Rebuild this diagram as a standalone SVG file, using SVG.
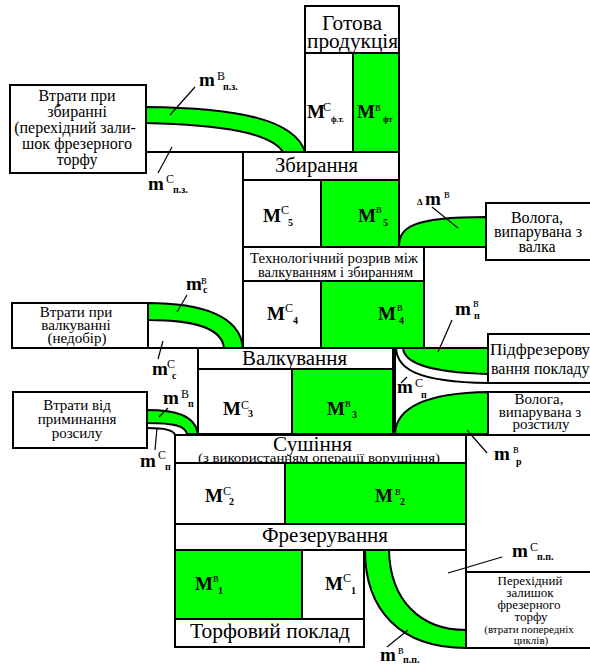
<svg xmlns="http://www.w3.org/2000/svg" width="590" height="666" viewBox="0 0 590 666" font-family="'Liberation Serif','DejaVu Serif','Times New Roman',serif">
<style>
.w{fill:#fff;stroke:#000;stroke-width:2}
.g{fill:#00ff00;stroke:#000;stroke-width:2}
.ln{fill:none;stroke:#000;stroke-width:2}
.ld{fill:none;stroke:#000;stroke-width:1.2}
text{font-family:'Liberation Serif','DejaVu Serif','Times New Roman',serif;fill:#000}
.bt{font-size:20px}
.tt{font-size:14px}
.st{font-size:16px;text-anchor:middle}
.st2{font-size:15px;text-anchor:middle}
.st3{font-size:13px;text-anchor:middle}
.sm{font-size:11px;text-anchor:middle}
.M{font-size:19px;font-weight:bold}
.sp{font-size:12px;font-weight:normal}
.sb{font-size:10px;font-weight:bold}
.sb8{font-size:8px;font-weight:bold}
</style>
<rect width="590" height="666" fill="#fff"/>

<g id="connectors">
  <path class="g" d="M146,107 C240,108 295,120 305,152 L283,152 C270,132 220,125 146,123 Z"/>
  <line class="ln" x1="146" y1="152" x2="243" y2="152"/>
  <path class="g" d="M148,303 C200,303 240,315 243,348 L224,348 C222,330 200,320 148,320 Z"/>
  <line class="ln" x1="148" y1="348" x2="243" y2="348"/>
  <path class="g" d="M147,410 C175,410 195,415 198,434 L187,434 C185,426 175,423 147,423 Z"/>
  <path class="ln" d="M147,428 C165,428 174,430 175,435"/>
  <path class="g" d="M399,247 C399,228 410,217 486,217 L486,247 Z"/>
  <path class="g" d="M403,348 L488,348 L488,374 C425,372 404,362 403,348 Z"/>
  <path class="ln" d="M396,348 C397,368 415,382 488,383"/>
  <line class="ln" x1="395" y1="348" x2="395" y2="434"/>
  <path class="g" d="M395,434 C396,410 420,393 488,392 L488,434 Z"/>
  <line class="ln" x1="466" y1="435" x2="466" y2="572"/>
  <path class="g" d="M365,550 C365,610 400,648 466,648 L466,630 C420,630 390,600 389,550 Z"/>
  <line class="ld" x1="195" y1="87" x2="170" y2="115"/>
  <line class="ld" x1="172" y1="147" x2="158" y2="173"/>
  <line class="ld" x1="187" y1="295" x2="177" y2="312"/>
  <line class="ld" x1="163" y1="341" x2="158" y2="359"/>
  <line class="ld" x1="159" y1="417" x2="168" y2="408"/>
  <line class="ld" x1="157" y1="428" x2="155" y2="450"/>
  <line class="ld" x1="432" y1="207" x2="458" y2="228"/>
  <line class="ld" x1="452" y1="320" x2="438" y2="352"/>
  <line class="ld" x1="401" y1="383" x2="407" y2="377"/>
  <line class="ld" x1="467" y1="430" x2="487" y2="453"/>
  <line class="ld" x1="502" y1="557" x2="448" y2="573"/>
  <line class="ld" x1="387" y1="647" x2="408" y2="630"/>
</g>

<g id="flow-labels">
  <text class="M" x="199" y="86">m<tspan class="sp" x="217" y="80">В</tspan><tspan class="sb" x="223" y="90">п.з.</tspan></text>
  <text class="M" x="148" y="190">m<tspan class="sp" x="166" y="183">С</tspan><tspan class="sb" x="173" y="193">п.з.</tspan></text>
  <text class="M" x="186" y="290">m<tspan class="sp" x="201" y="284">в</tspan><tspan class="sb" x="203" y="293">с</tspan></text>
  <text class="M" x="152" y="375">m<tspan class="sp" x="167" y="368">С</tspan><tspan class="sb" x="172" y="379">с</tspan></text>
  <text class="M" x="163" y="404">m<tspan class="sp" x="181" y="398">В</tspan><tspan class="sb" x="188" y="407">п</tspan></text>
  <text class="M" x="140" y="467">m<tspan class="sp" x="158" y="459">С</tspan><tspan class="sb" x="165" y="470">п</tspan></text>
  <text class="M" x="425" y="205"><tspan font-size="9px" x="417" y="205">Δ</tspan><tspan x="425" y="205">m</tspan><tspan class="sp" x="444" y="198">в</tspan></text>
  <text class="M" x="455" y="315">m<tspan class="sp" x="473" y="307">в</tspan><tspan class="sb" x="474" y="319">п</tspan></text>
  <text class="M" x="397" y="393">m<tspan class="sp" x="415" y="387">С</tspan><tspan class="sb" x="421" y="398">п</tspan></text>
  <text class="M" x="494" y="460">m<tspan class="sp" x="513" y="453">в</tspan><tspan class="sb" x="516" y="465">р</tspan></text>
  <text class="M" x="512" y="557">m<tspan class="sp" x="530" y="551">С</tspan><tspan class="sb" x="537" y="560">п.п.</tspan></text>
  <text class="M" x="380" y="661">m<tspan class="sp" x="398" y="654">в</tspan><tspan class="sb" x="403" y="663">п.п.</tspan></text>
</g>

<g id="n-gotova">
  <rect class="w" x="305" y="6" width="94" height="47"/>
  <rect class="w" x="305" y="53" width="48" height="99"/>
  <rect class="g" x="353" y="53" width="46" height="99"/>
  <text class="bt" x="322" y="30" textLength="60" lengthAdjust="spacingAndGlyphs">Готова</text>
  <text class="bt" x="307" y="48" textLength="91" lengthAdjust="spacingAndGlyphs">продукція</text>
  <text class="M" x="307" y="118" font-size="18px">M<tspan class="sp" x="323" y="111">С</tspan><tspan class="sb8" x="331" y="122">ф.т.</tspan></text>
  <text class="M" x="357" y="118" font-size="18px">M<tspan class="sp" x="375" y="111">в</tspan><tspan class="sb8" x="383" y="122">фт</tspan></text>
</g>

<g id="n-zbyrannya">
  <rect class="w" x="243" y="152" width="156" height="28"/>
  <text class="bt" x="275" y="172" textLength="83" lengthAdjust="spacingAndGlyphs">Збирання</text>
</g>

<g id="n-m5">
  <rect class="w" x="243" y="180" width="78" height="67"/>
  <rect class="g" x="321" y="180" width="78" height="67"/>
  <text class="M" x="263" y="222">M<tspan class="sp" x="281" y="214">С</tspan><tspan class="sb" x="288" y="226">5</tspan></text>
  <text class="M" x="358" y="222">M<tspan class="sp" x="376" y="213">в</tspan><tspan class="sb" x="383" y="226">5</tspan></text>
</g>

<g id="n-tech">
  <rect class="w" x="243" y="247" width="181" height="34"/>
  <text class="tt" x="250" y="263" textLength="168" lengthAdjust="spacingAndGlyphs">Технологічний розрив між</text>
  <text class="tt" x="258" y="277" textLength="155" lengthAdjust="spacingAndGlyphs">валкуванням і збиранням</text>
</g>

<g id="n-m4">
  <rect class="w" x="243" y="281" width="78" height="67"/>
  <rect class="g" x="321" y="281" width="103" height="67"/>
  <text class="M" x="267" y="320">M<tspan class="sp" x="285" y="312">С</tspan><tspan class="sb" x="293" y="324">4</tspan></text>
  <text class="M" x="378" y="320">M<tspan class="sp" x="397" y="311">в</tspan><tspan class="sb" x="399" y="324">4</tspan></text>
</g>

<g id="n-valk">
  <rect class="w" x="198" y="348" width="195" height="21"/>
  <text class="bt" x="242" y="365" textLength="105" lengthAdjust="spacingAndGlyphs">Валкування</text>
</g>

<g id="n-m3">
  <rect class="w" x="198" y="369" width="94" height="65"/>
  <rect class="g" x="292" y="369" width="101" height="65"/>
  <text class="M" x="223" y="415">M<tspan class="sp" x="241" y="409">С</tspan><tspan class="sb" x="248" y="417">3</tspan></text>
  <text class="M" x="327" y="415">M<tspan class="sp" x="345" y="407">в</tspan><tspan class="sb" x="352" y="418">3</tspan></text>
</g>

<g id="n-sush">
  <line class="ln" x1="466" y1="435" x2="590" y2="435"/>
  <rect class="w" x="175" y="435" width="291" height="28"/>
  <text class="bt" x="273" y="451" textLength="79" lengthAdjust="spacingAndGlyphs">Сушіння</text>
  <text x="198" y="462" font-size="12px" textLength="242" lengthAdjust="spacingAndGlyphs">(з використанням операції ворушіння)</text>
</g>

<g id="n-m2">
  <rect class="w" x="175" y="463" width="110" height="61"/>
  <rect class="g" x="285" y="463" width="181" height="61"/>
  <text class="M" x="205" y="502">M<tspan class="sp" x="223" y="495">С</tspan><tspan class="sb" x="229" y="505">2</tspan></text>
  <text class="M" x="375" y="502">M<tspan class="sp" x="395" y="495">в</tspan><tspan class="sb" x="400" y="505">2</tspan></text>
</g>

<g id="n-frez">
  <rect class="w" x="175" y="524" width="291" height="26"/>
  <text class="bt" x="262" y="542" textLength="126" lengthAdjust="spacingAndGlyphs">Фрезерування</text>
</g>

<g id="n-m1">
  <rect class="g" x="175" y="550" width="127" height="69"/>
  <rect class="w" x="302" y="550" width="62" height="69"/>
  <text class="M" x="195" y="590">M<tspan class="sp" x="213" y="582">в</tspan><tspan class="sb" x="218" y="594">1</tspan></text>
  <text class="M" x="325" y="590">M<tspan class="sp" x="343" y="582">С</tspan><tspan class="sb" x="351" y="594">1</tspan></text>
</g>

<g id="n-torf">
  <rect class="w" x="175" y="619" width="189" height="28"/>
  <text class="bt" x="190" y="638" textLength="160" lengthAdjust="spacingAndGlyphs">Торфовий поклад</text>
</g>

<g id="n-loss-harvest">
  <rect class="w" x="10" y="85" width="136" height="88"/>
  <text class="st" x="77" y="101">Втрати при</text>
  <text class="st" x="77" y="117">збиранні</text>
  <text class="st" x="75" y="133">(перехідний зали-</text>
  <text class="st" x="77" y="149">шок фрезерного</text>
  <text class="st" x="77" y="165">торфу</text>
</g>

<g id="n-loss-windrow">
  <rect class="w" x="12" y="303" width="136" height="45"/>
  <text class="st2" x="76" y="317">Втрати при</text>
  <text class="st2" x="76" y="330">валкуванні</text>
  <text class="st2" x="77" y="343">(недобір)</text>
</g>

<g id="n-loss-trample">
  <rect class="w" x="13" y="392" width="134" height="56"/>
  <text class="st2" x="77" y="410">Втрати від</text>
  <text class="st2" x="77" y="424">приминання</text>
  <text class="st2" x="77" y="438">розсилу</text>
</g>

<g id="n-evap-windrow">
  <rect class="w" x="486" y="203" width="110" height="57"/>
  <text class="st" x="537" y="223">Волога,</text>
  <text class="st" x="538" y="237">випарувана з</text>
  <text class="st" x="537" y="252">валка</text>
</g>

<g id="n-subcut">
  <rect class="w" x="488" y="334" width="110" height="49"/>
  <text x="490" y="355" font-size="17px">Підфрезерову</text>
  <text x="491" y="374" font-size="16px">вання покладу</text>
</g>

<g id="n-evap-spread">
  <rect class="w" x="488" y="392" width="110" height="43"/>
  <text class="st2" x="539" y="404">Волога,</text>
  <text class="st2" x="540" y="417">випарувана з</text>
  <text class="st2" x="541" y="429">розстилу</text>
</g>

<g id="n-carryover">
  <rect class="w" x="466" y="572" width="130" height="76"/>
  <text class="st3" x="530" y="585">Перехідний</text>
  <text class="st3" x="530" y="597">залишок</text>
  <text class="st3" x="529" y="609">фрезерного</text>
  <text class="st3" x="531" y="621">торфу</text>
  <text class="sm" x="529" y="633">(втрати попередніх</text>
  <text class="sm" x="531" y="644">циклів)</text>
</g>
</svg>
